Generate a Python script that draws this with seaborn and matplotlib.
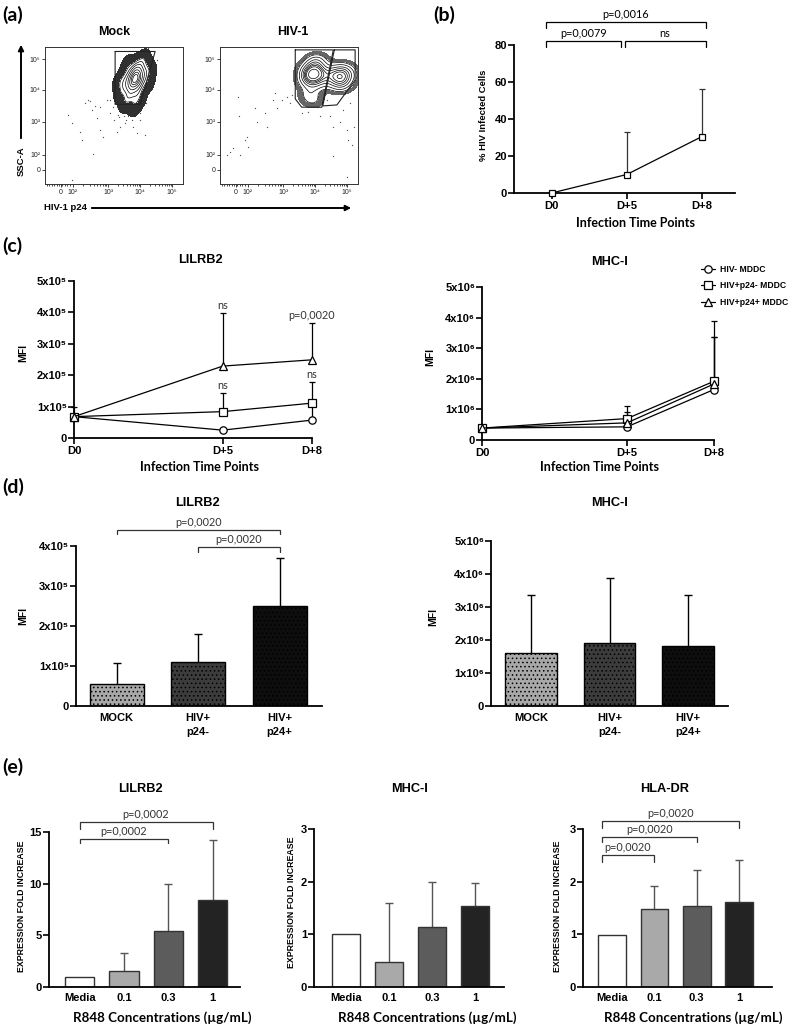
import numpy as np
import pandas as pd
import matplotlib
matplotlib.use("Agg")
import matplotlib.pyplot as plt
import seaborn as sns
from matplotlib.patches import FancyArrowPatch
from matplotlib.lines import Line2D
from matplotlib.colors import ListedColormap

# ---------------- data ----------------
# (a) flow cytometry events, in display units of the biexponential axes (decades)
mock_core_x = [3.85, 3.80, 3.90, 3.75, 3.95, 3.70, 4.00, 3.85, 3.80, 3.90,
               3.65, 4.05, 3.60, 4.10, 3.75, 3.95, 3.55, 4.15, 3.70, 4.00,
               3.50, 3.85, 3.60, 4.20, 3.45, 3.90, 4.05, 3.65, 3.80, 4.25,
               3.40, 3.95, 3.75, 3.55, 4.10, 3.35, 4.30, 3.85, 3.60, 4.00,
               3.85, 3.82, 3.88, 3.78, 3.92, 3.86, 3.80, 3.90]
mock_core_y = [4.33, 4.37, 4.29, 4.21, 4.45, 4.33, 4.37, 4.53, 4.13, 4.61,
               4.09, 4.57, 4.29, 4.29, 3.97, 4.73, 4.05, 4.49, 3.85, 4.13,
               4.37, 4.77, 3.77, 4.69, 4.13, 3.89, 4.85, 4.53, 3.65, 4.21,
               3.89, 4.01, 4.65, 3.61, 4.93, 4.25, 4.53, 3.49, 4.77, 3.73,
               4.37, 4.31, 4.41, 4.35, 4.27, 4.47, 4.25, 4.37]
mock_out_x = [1.76, 1.87, 2.13, 2.18, 2.38, 2.49, 2.65, 2.75, 2.85, 2.96,
              3.06, 3.17, 3.27, 3.38, 3.53, 3.63, 3.79, 3.90, 4.16, 2.54,
              1.87, 3.06, 3.27, 3.32, 3.43, 3.58, 3.74, 3.85, 4.00, 4.20,
              4.26, 4.38, 4.43, 4.53, 3.74, 4.00, 2.75, 2.44, 2.60, 2.28, 4.26,
              3.30, 3.40, 3.50, 3.20, 3.60, 3.45, 3.15, 3.35, 3.55, 3.25]
mock_out_y = [3.22, 2.96, 2.70, 2.44, 3.69, 3.38, 3.12, 2.75, 2.54, 3.69,
              3.27, 3.06, 2.70, 2.85, 2.96, 3.17, 2.85, 2.65, 2.59, 2.00,
              1.20, 3.69, 3.48, 3.22, 3.38, 3.48, 3.22, 3.38, 3.27, 3.59,
              3.90, 4.20, 4.73, 4.94, 3.06, 3.06, 3.48, 3.64, 3.50, 3.59, 5.30,
              3.50, 3.30, 3.20, 3.70, 3.40, 3.60, 3.45, 3.15, 3.05, 3.85]
hiv_core_x = [3.95, 3.92, 3.98, 3.88, 4.02, 3.85, 4.05, 3.95, 3.90, 4.00,
              3.80, 4.10, 3.78, 4.12, 3.88, 4.02, 3.72, 4.18, 3.85, 4.05,
              3.70, 3.95, 3.75, 4.20, 3.68, 3.98, 4.10, 3.82, 3.92, 4.25,
              4.78, 4.70, 4.85, 4.60, 4.95, 4.72, 4.88, 4.55, 5.00, 4.65,
              4.80, 4.92, 4.50, 5.05, 4.75, 4.62, 4.98, 4.85, 4.45, 5.10]
hiv_core_y = [4.47, 4.52, 4.42, 4.40, 4.58, 4.50, 4.45, 4.68, 4.25, 4.78,
              4.30, 4.65, 4.55, 4.35, 4.05, 4.90, 4.20, 4.55, 3.90, 4.15,
              4.65, 4.95, 3.80, 4.80, 4.40, 3.70, 5.00, 4.75, 3.60, 4.20,
              4.42, 4.50, 4.35, 4.45, 4.40, 4.25, 4.60, 4.30, 4.55, 4.65,
              4.15, 4.20, 4.55, 4.30, 4.75, 4.10, 4.70, 4.05, 4.40, 4.50]
hiv_out_x = [1.24, 1.34, 1.45, 1.60, 1.63, 1.66, 1.81, 1.87, 1.92, 2.13,
             2.18, 2.44, 2.49, 2.70, 2.75, 2.80, 2.96, 3.11, 3.22, 3.27,
             3.58, 3.79, 4.16, 4.47, 4.57, 4.78, 4.99, 5.04, 5.15, 5.20,
             4.99, 4.57, 4.88, 5.09, 4.37, 4.10, 5.23, 5.18, 3.43, 3.48]
hiv_out_y = [1.97, 2.07, 2.18, 3.79, 3.17, 1.97, 2.44, 2.54, 2.23, 3.43,
             3.01, 3.27, 2.85, 3.69, 3.90, 3.43, 3.69, 3.79, 3.58, 3.84,
             3.27, 3.32, 3.17, 3.17, 2.85, 3.01, 2.75, 2.44, 2.28, 2.85,
             1.29, 1.92, 3.38, 3.58, 3.69, 3.48, 4.21, 4.73, 4.21, 4.73]
mock_gate_x = [3.22, 4.47, 4.00, 3.22, 3.22]
mock_gate_y = [5.20, 5.20, 3.55, 3.55, 5.20]
hiv_gate1_x = [3.38, 4.57, 4.21, 3.58, 3.38, 3.38]
hiv_gate1_y = [5.25, 5.25, 3.46, 3.46, 3.72, 5.25]
hiv_gate2_x = [4.60, 5.25, 5.25, 4.68, 4.24, 4.60]
hiv_gate2_y = [5.25, 5.25, 4.31, 3.53, 3.50, 5.25]
flow_xtick_pos = [1.52, 1.90, 3.0, 4.0, 5.0]
flow_ytick_pos = [1.50, 1.97, 3.0, 4.0, 4.95]
flow_tick_labels = ["0", "10²", "10³", "10⁴", "10⁵"]

# (b) % infected cells
b_days = ["D0", "D+5", "D+8"]
b_mean = [0.0, 10.0, 30.5]
b_upper = [0.0, 33.0, 56.0]

# (c) time course
c_days = [0, 5, 8]
c_day_labels = ["D0", "D+5", "D+8"]
groups = ["HIV- MDDC", "HIV+p24- MDDC", "HIV+p24+ MDDC"]
lilrb2_neg = [0.68e5, 0.25e5, 0.57e5]
lilrb2_p24neg = [0.68e5, 0.84e5, 1.11e5]
lilrb2_p24pos = [0.68e5, 2.29e5, 2.49e5]
lilrb2_neg_up = [0.99e5, 0.25e5, 1.08e5]
lilrb2_p24neg_up = [0.68e5, 1.44e5, 1.79e5]
lilrb2_p24pos_up = [0.68e5, 3.99e5, 3.67e5]
mhc_neg = [0.39e6, 0.43e6, 1.65e6]
mhc_p24neg = [0.39e6, 0.70e6, 1.92e6]
mhc_p24pos = [0.39e6, 0.56e6, 1.83e6]
mhc_neg_up = [0.45e6, 0.50e6, 3.36e6]
mhc_p24neg_up = [0.39e6, 1.10e6, 3.90e6]
mhc_p24pos_up = [0.39e6, 0.92e6, 3.38e6]

# (d) D+8 bars
d_cats = ["MOCK", "HIV+\np24-", "HIV+\np24+"]
d_lilrb2 = [0.54e5, 1.09e5, 2.50e5]
d_lilrb2_up = [1.08e5, 1.79e5, 3.69e5]
d_mhc = [1.62e6, 1.90e6, 1.83e6]
d_mhc_up = [3.35e6, 3.89e6, 3.37e6]

# (e) R848 fold increase
e_cats = ["Media", "0.1", "0.3", "1"]
e_lilrb2 = [1.0, 1.58, 5.39, 8.42]
e_lilrb2_up = [1.0, 3.30, 9.94, 14.2]
e_mhc = [1.0, 0.48, 1.13, 1.54]
e_mhc_up = [1.0, 1.60, 2.00, 1.97]
e_hla = [0.98, 1.48, 1.54, 1.61]
e_hla_up = [0.98, 1.92, 2.22, 2.42]

# ---------------- style ----------------
sns.set_theme(style="ticks")
SANS = ["Liberation Sans", "DejaVu Sans"]
CAL = ["Lato", "DejaVu Sans"]
plt.rcParams.update({
    "font.family": SANS,
    "font.weight": "bold",
    "axes.labelweight": "bold",
    "text.color": "black",
    "axes.edgecolor": "black",
    "xtick.color": "black",
    "ytick.color": "black",
    "axes.linewidth": 1.2,
    "hatch.linewidth": 0.6,
})

W, H = 798, 1028
fig = plt.figure(figsize=(W / 100, H / 100), dpi=100)
fig.patch.set_facecolor("white")


def box(l, t, r, b):
    return fig.add_axes([l / W, 1 - b / H, (r - l) / W, (b - t) / H])


def ftext(x, y, s, size=8, family=None, weight="bold", rot=0, ha="center", va="center", color="black"):
    fig.text(x / W, 1 - y / H, s, fontsize=size, fontfamily=family or SANS,
             fontweight=weight, rotation=rot, ha=ha, va=va, color=color)


def prism(ax, xticks=True, xpad=1.5):
    sns.despine(ax=ax)
    ax.spines["left"].set_linewidth(1.3)
    ax.spines["bottom"].set_linewidth(1.3)
    ax.tick_params(axis="y", direction="out", length=4, width=1.2, labelsize=8, pad=1)
    ax.tick_params(axis="x", direction="out", length=4 if xticks else 0, width=1.2,
                   labelsize=8, pad=xpad)
    ax.set_xlabel("")
    ax.set_ylabel("")
    ax.set_facecolor("none")


def upper_err(ax, x, mean, upper, color, lw, cap, z=1.5):
    x = np.asarray(x, float)
    m = np.asarray(mean, float)
    u = np.asarray(upper, float)
    keep = u > m
    if not keep.any():
        return
    eb = ax.errorbar(x[keep], m[keep], yerr=[np.zeros(keep.sum()), (u - m)[keep]],
                     fmt="none", ecolor=color, elinewidth=lw, capsize=cap,
                     capthick=lw, zorder=z, clip_on=False)
    eb[1][0].set_visible(False)
    for c in eb[2]:
        c.set_clip_on(False)


def bracket(ax, x1, x2, y, drop, text, color="#333", fs=7.8):
    ax.plot([x1, x1, x2, x2], [y - drop, y, y, y - drop], color=color, lw=0.9,
            clip_on=False, solid_joinstyle="miter")
    ax.annotate(text, xy=((x1 + x2) / 2, y), xytext=(0, 1.2), textcoords="offset points",
                ha="center", va="bottom", fontsize=fs, fontfamily=CAL, fontweight="normal",
                color=color, annotation_clip=False)


# ---------------- (a) flow cytometry ----------------
def flow_panel(ax, cx, cy, ox, oy, gates, halo_lv, white_lv, line_lvs, halo_color):
    ev = pd.DataFrame({"p24": cx, "ssc": cy})
    ax.scatter(ox, oy, s=0.9, color="#555", linewidths=0, zorder=1)
    ax.scatter(cx, cy, s=0.9, color="#333", linewidths=0, zorder=1)
    sns.kdeplot(data=ev, x="p24", y="ssc", fill=True, levels=[halo_lv, 1.0],
                cmap=ListedColormap([halo_color]), ax=ax, zorder=2)
    sns.kdeplot(data=ev, x="p24", y="ssc", fill=True, levels=[white_lv, 1.0],
                cmap=ListedColormap(["white"]), ax=ax, zorder=3)
    sns.kdeplot(data=ev, x="p24", y="ssc", levels=line_lvs, color="black",
                linewidths=0.5, ax=ax, zorder=4)
    for gx, gy in gates:
        ax.plot(gx, gy, color="#222", lw=0.8, zorder=5)
    ax.set_xlim(1.03, 5.34)
    ax.set_ylim(1.06, 5.34)
    ax.set_xticks(flow_xtick_pos, flow_tick_labels)
    ax.set_yticks(flow_ytick_pos, flow_tick_labels)
    minors = [d + np.log10(k) for d in (3, 4) for k in range(2, 10)]
    minors += [1.90 + 1.10 * np.log10(k) for k in range(2, 10)]
    minors += list(np.arange(1.08, 1.88, 0.08))
    ax.set_xticks(minors, minor=True)
    ax.tick_params(labelsize=5, length=2, width=0.6, pad=1.5, colors="#222")
    ax.tick_params(axis="x", which="minor", length=1.5, width=0.5)
    for t in ax.get_xticklabels() + ax.get_yticklabels():
        t.set_fontweight("normal")
    for sp in ax.spines.values():
        sp.set_linewidth(0.7)
        sp.set_color("#333")
    ax.set_xlabel("")
    ax.set_ylabel("")


ax_m = box(45, 47, 183, 184)
flow_panel(ax_m, mock_core_x, mock_core_y, mock_out_x, mock_out_y,
           [(mock_gate_x, mock_gate_y)], 0.01, 0.22,
           [0.22, 0.36, 0.5, 0.63, 0.75, 0.85, 0.93], "#303030")
ax_h = box(220, 47, 358, 184)
flow_panel(ax_h, hiv_core_x, hiv_core_y, hiv_out_x, hiv_out_y,
           [(hiv_gate1_x, hiv_gate1_y), (hiv_gate2_x, hiv_gate2_y)], 0.05, 0.15,
           [0.15, 0.27, 0.4, 0.52, 0.64, 0.75, 0.85, 0.93], "#666666")
ftext(114, 32, "Mock", size=9)
ftext(293, 32, "HIV-1", size=9)
fig.add_artist(FancyArrowPatch((21 / W, 1 - 141 / H), (21 / W, 1 - 42 / H),
                               transform=fig.transFigure, arrowstyle="-|>",
                               mutation_scale=8, lw=1.4, color="black"))
ftext(21, 161, "SSC-A", size=6.8, rot=90)
ftext(65, 208, "HIV-1 p24", size=6.8)
fig.add_artist(FancyArrowPatch((89 / W, 1 - 208 / H), (354 / W, 1 - 208 / H),
                               transform=fig.transFigure, arrowstyle="-|>",
                               mutation_scale=8, lw=1.4, color="black"))

# ---------------- (b) ----------------
ax = box(514, 45, 735, 193)
bx = np.arange(len(b_days))
upper_err(ax, bx, b_mean, b_upper, "#333", 0.9, 2.5)
sns.lineplot(x=bx, y=b_mean, marker="s", markersize=5, markerfacecolor="white",
             markeredgecolor="black", markeredgewidth=0.9, color="black",
             linewidth=0.9, ax=ax, clip_on=False, zorder=3)
ax.set_xlim(-0.5, 2.44)
ax.set_ylim(0, 80)
ax.set_xticks(bx, b_days)
ax.set_yticks([0, 20, 40, 60, 80])
prism(ax)
bracket(ax, -0.07, 2.05, 92.4, 3.2, "p=0,0016", color="black")
bracket(ax, -0.07, 0.93, 82.4, 3.5, "p=0,0079", color="black")
bracket(ax, 0.97, 2.05, 82.4, 3.5, "ns", color="black")
ftext(483, 115, "% HIV Infected Cells", size=6.8, rot=90)
ftext(635, 223, "Infection Time Points", size=9, family=CAL)


# ---------------- (c) ----------------
def c_panel(ax, means, uppers, ymax, tick_labels):
    df = pd.DataFrame({"day": np.tile(c_days, len(means)),
                       "MFI": np.concatenate(means),
                       "group": np.repeat(groups, len(c_days))})
    for m, u in zip(means, uppers):
        upper_err(ax, c_days, m, u, "black", 0.9, 2.5)
    sns.lineplot(data=df, x="day", y="MFI", style="group", markers=["o", "s", "^"],
                 dashes=False, color="black", markersize=5.3, markerfacecolor="white",
                 markeredgecolor="black", markeredgewidth=0.9, linewidth=0.9,
                 legend=False, ax=ax, clip_on=False, zorder=3)
    ax.set_xlim(0, 8)
    ax.set_ylim(0, ymax)
    ax.set_xticks(c_days, c_day_labels)
    ax.set_yticks(np.linspace(0, ymax, 6), tick_labels)
    prism(ax)


ax_c1 = box(74, 281, 312, 438)
c_panel(ax_c1, [lilrb2_neg, lilrb2_p24neg, lilrb2_p24pos],
        [lilrb2_neg_up, lilrb2_p24neg_up, lilrb2_p24pos_up], 5e5,
        ["0", "1x10⁵", "2x10⁵", "3x10⁵", "4x10⁵", "5x10⁵"])
for xd, yv, txt in [(5, lilrb2_p24pos_up[1], "ns"), (8, lilrb2_p24pos_up[2], "p=0,0020"),
                    (5, lilrb2_p24neg_up[1], "ns"), (8, lilrb2_p24neg_up[2], "ns")]:
    ax_c1.annotate(txt, xy=(xd, yv), xytext=(0, 1.5), textcoords="offset points",
                   ha="center", va="bottom", fontsize=7.8, fontfamily=CAL,
                   fontweight="normal", color="#333", annotation_clip=False)
ftext(200, 260, "LILRB2", size=9.2)
ftext(23, 353, "MFI", size=7.5, rot=90)
ftext(200, 467, "Infection Time Points", size=9, family=CAL)

ax_c2 = box(482, 287, 714, 440)
c_panel(ax_c2, [mhc_neg, mhc_p24neg, mhc_p24pos],
        [mhc_neg_up, mhc_p24neg_up, mhc_p24pos_up], 5e6,
        ["0", "1x10⁶", "2x10⁶", "3x10⁶", "4x10⁶", "5x10⁶"])
ftext(610, 262, "MHC-I", size=9.2)
ftext(430, 357, "MFI", size=7.5, rot=90)
ftext(600, 467, "Infection Time Points", size=9, family=CAL)
handles = [Line2D([], [], color="black", lw=0.9, marker=mk, markersize=5.3,
                  markerfacecolor="white", markeredgecolor="black", markeredgewidth=0.9)
           for mk in ["o", "s", "^"]]
fig.legend(handles, groups, loc="upper left", bbox_to_anchor=(701 / W, 1 - 265 / H),
           frameon=False, fontsize=6.2, handlelength=1.6, handletextpad=0.6,
           labelspacing=0.85, borderaxespad=0, borderpad=0)


# ---------------- (d) ----------------
def bar_panel(ax, cats, vals, ups, colors, edge, ecolor, cap, hatch=None):
    sns.barplot(x=cats, y=vals, hue=cats, palette=colors, legend=False, width=0.66,
                edgecolor=edge, linewidth=1.0, saturation=1, ax=ax, zorder=2)
    if hatch:
        for p in ax.patches:
            p.set_hatch(hatch)
    upper_err(ax, np.arange(len(cats)), vals, ups, ecolor, 1.0, cap, z=1)


d_colors = ["#a8a8a8", "#3c3c3c", "#0e0e0e"]
ax_d1 = box(76, 546, 322, 706)
bar_panel(ax_d1, d_cats, d_lilrb2, d_lilrb2_up, d_colors, "black", "black", 3.2, hatch="....")
ax_d1.set_xlim(-0.5, 2.52)
ax_d1.set_ylim(0, 4e5)
ax_d1.set_yticks([0, 1e5, 2e5, 3e5, 4e5], ["0", "1x10⁵", "2x10⁵", "3x10⁵", "4x10⁵"])
prism(ax_d1, xticks=False, xpad=5)
for t in ax_d1.get_xticklabels():
    t.set_linespacing(1.5)
bracket(ax_d1, 0, 2, 4.4e5, 0.1e5, "p=0,0020")
bracket(ax_d1, 1, 2, 3.975e5, 0.125e5, "p=0,0020")
ftext(197, 503, "LILRB2", size=9.2)
ftext(23, 616, "MFI", size=7.5, rot=90)

ax_d2 = box(491, 541, 728, 706)
bar_panel(ax_d2, d_cats, d_mhc, d_mhc_up, d_colors, "black", "black", 3.2, hatch="....")
ax_d2.set_xlim(-0.51, 2.51)
ax_d2.set_ylim(0, 5e6)
ax_d2.set_yticks(np.linspace(0, 5e6, 6), ["0", "1x10⁶", "2x10⁶", "3x10⁶", "4x10⁶", "5x10⁶"])
prism(ax_d2, xticks=False, xpad=5)
for t in ax_d2.get_xticklabels():
    t.set_linespacing(1.5)
ftext(610, 503, "MHC-I", size=9.2)
ftext(433, 617, "MFI", size=7.5, rot=90)

# ---------------- (e) ----------------
e_colors = ["white", "#a9a9a9", "#5c5c5c", "#232323"]
specs = [
    ((49, 832, 240, 987), e_lilrb2, e_lilrb2_up, 15, [0, 5, 10, 15], (-0.69, 3.62), "LILRB2", 140, 22, 906, 162),
    ((314, 829, 504, 987), e_mhc, e_mhc_up, 3, [0, 1, 2, 3], (-0.74, 3.67), "MHC-I", 409, 292, 902, 427),
    ((583, 829, 772, 987), e_hla, e_hla_up, 3, [0, 1, 2, 3], (-0.69, 3.78), "HLA-DR", 665, 557, 906, 693),
]
e_axes = []
for rect, vals, ups, ymax, yt, xl, title, tx, lx, ly, xlx in specs:
    ax = box(*rect)
    bar_panel(ax, e_cats, vals, ups, e_colors, "#333333", "#555555", 3.0)
    ax.set_xlim(*xl)
    ax.set_ylim(0, ymax)
    ax.set_yticks(yt)
    prism(ax, xticks=False, xpad=4)
    ftext(tx, 789, title, size=9.2)
    ftext(lx, ly, "EXPRESSION FOLD INCREASE", size=6.3, rot=90)
    ftext(xlx, 1018, "R848 Concentrations (µg/mL)", size=9.6, family=CAL)
    e_axes.append(ax)

bracket(e_axes[0], 0, 3, 16.0, 0.7, "p=0,0002")
bracket(e_axes[0], 0, 2, 14.35, 0.45, "p=0,0002")
bracket(e_axes[2], -0.25, 1, 2.506, 0.125, "p=0,0020")
bracket(e_axes[2], -0.25, 2, 2.85, 0.09, "p=0,0020")
bracket(e_axes[2], -0.25, 3, 3.15, 0.13, "p=0,0020")

# ---------------- panel letters ----------------
for x, y, s in [(2, 15, "(a)"), (433, 15, "(b)"), (2, 246, "(c)"), (2, 487, "(d)"), (2, 767, "(e)")]:
    ftext(x, y, s, size=14, family=CAL, ha="left")

fig.savefig("out.png", dpi=100)
